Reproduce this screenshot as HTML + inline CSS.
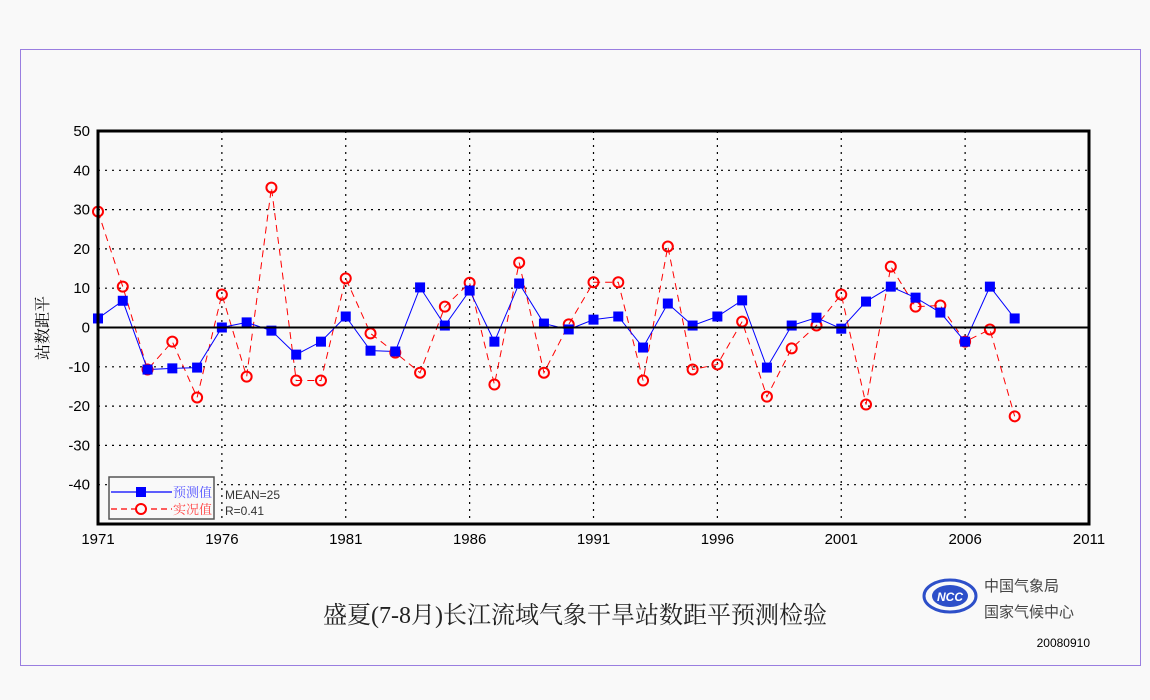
<!DOCTYPE html>
<html><head><meta charset="utf-8"><style>
body{margin:0;background:#f9f9f9;width:1150px;height:700px;overflow:hidden}
svg{display:block}
text{font-family:"Liberation Sans","Noto Sans CJK SC",sans-serif}
</style></head><body>
<svg id="chart" width="1150" height="700">
<rect x="20.5" y="49.5" width="1120" height="616" fill="#f9f9f9" stroke="#9a7ee0" stroke-width="1"/>
<g id="grid"></g><g id="series"></g><g id="axes"></g>
<text x="48" y="328" font-size="16" transform="rotate(-90 48 328)" text-anchor="middle" style="font-family:'Liberation Serif','Noto Serif CJK SC',serif">站数距平</text>
<text x="575" y="623" font-size="24" text-anchor="middle" fill="#222" style="font-family:'Liberation Serif','Noto Serif CJK SC',serif">盛夏(7-8月)长江流域气象干旱站数距平预测检验</text>
<g>
<ellipse cx="950" cy="596" rx="26" ry="16" fill="none" stroke="#2d4fc9" stroke-width="3"/>
<ellipse cx="950" cy="596" rx="18" ry="11" fill="#2d4fc9"/>
<text x="950" y="601" font-size="12" fill="#fff" text-anchor="middle" font-style="italic" font-weight="bold">NCC</text>
</g>
<text x="984" y="591" font-size="15" fill="#444">中国气象局</text>
<text x="984" y="617" font-size="15" fill="#444">国家气候中心</text>
<text x="1090" y="647" font-size="12" text-anchor="end">20080910</text>
<g>
<rect x="109" y="477" width="105" height="42" fill="#f9f9f9" stroke="#555" stroke-width="1.5"/>
<line x1="111" y1="492" x2="172" y2="492" stroke="#00f" stroke-width="1.2"/>
<rect x="136" y="487" width="10" height="10" fill="#00f"/>
<text x="173" y="497" font-size="13" fill="#55f" style="font-family:'Noto Serif CJK SC',serif">预测值</text>
<line x1="111" y1="509" x2="172" y2="509" stroke="#f00" stroke-width="1.2" stroke-dasharray="6,4"/>
<circle cx="141" cy="509" r="5" fill="#f9f9f9" stroke="#f00" stroke-width="2"/>
<text x="173" y="514" font-size="13" fill="#f44" style="font-family:'Noto Serif CJK SC',serif">实况值</text>
</g>
<text x="225" y="499" font-size="12" fill="#333">MEAN=25</text>
<text x="225" y="515" font-size="12" fill="#333">R=0.41</text>
</svg>
<script>
const years=[];for(let y=1971;y<=2008;y++)years.push(y);
const predicted=[2.3,6.8,-10.7,-10.4,-10.2,0,1.3,-0.8,-6.9,-3.6,2.8,-5.9,-6.1,10.2,0.5,9.4,-3.6,11.2,1,-0.5,2.0,2.8,-5.1,6.1,0.5,2.8,6.9,-10.2,0.5,2.5,-0.3,6.6,10.4,7.6,3.8,-3.6,10.4,2.3];
const observed=[29.5,10.4,-10.7,-3.6,-17.8,8.4,-12.5,35.6,-13.5,-13.5,12.5,-1.5,-6.4,-11.5,5.3,11.4,-14.5,16.5,-11.5,0.8,11.5,11.5,-13.5,20.6,-10.7,-9.4,1.5,-17.6,-5.3,0.5,8.4,-19.6,15.5,5.3,5.6,-3.6,-0.5,-22.6];
const yTicks=[50,40,30,20,10,0,-10,-20,-30,-40];
const xTicks=[1971,1976,1981,1986,1991,1996,2001,2006,2011];
const L=98,R=1089,T=131,B=524;
const xs=v=>L+(v-1971)/40*(R-L);
const ys=v=>T+(50-v)/100*(B-T);
const NS="http://www.w3.org/2000/svg";
function mk(tag,at,parent){const e=document.createElementNS(NS,tag);for(const k in at)e.setAttribute(k,at[k]);parent.appendChild(e);return e;}
const grid=document.getElementById('grid'),ser=document.getElementById('series'),ax=document.getElementById('axes');
yTicks.forEach(t=>{
 if(t!==0&&t!==50){const l=mk('line',{x1:L,x2:R,y1:ys(t),y2:ys(t),stroke:'#000','stroke-width':1.2,'stroke-dasharray':'2,5'},grid);
 
 }
 const tx=mk('text',{x:L-8,y:ys(t)+5,'font-size':15,'text-anchor':'end'},ax);tx.textContent=t;
 
 
});
xTicks.forEach(t=>{
 if(t!==1971&&t!==2011){const l=mk('line',{x1:xs(t),x2:xs(t),y1:T,y2:B,stroke:'#000','stroke-width':1.2,'stroke-dasharray':'2,5'},grid);
 
 }
 const tx=mk('text',{x:xs(t),y:B+20,'font-size':15,'text-anchor':'middle'},ax);tx.textContent=t;
 
 
});
const zl=mk('line',{x1:L,x2:R,y1:ys(0),y2:ys(0),stroke:'#000','stroke-width':2},ax);


const fr=mk('rect',{x:L,y:T,width:R-L,height:B-T,fill:'none',stroke:'#000','stroke-width':3},ax);


const po=mk('polyline',{points:years.map((y,i)=>xs(y)+','+ys(observed[i])).join(' '),fill:'none',stroke:'#f00','stroke-width':1,'stroke-dasharray':'7,5'},ser);


const pp=mk('polyline',{points:years.map((y,i)=>xs(y)+','+ys(predicted[i])).join(' '),fill:'none',stroke:'#00f','stroke-width':1},ser);


years.forEach((y,i)=>{
 const c=mk('circle',{cx:xs(y),cy:ys(observed[i]),r:5,fill:'none',stroke:'#f00','stroke-width':2},ser);
 
 
});
years.forEach((y,i)=>{
 const r=mk('rect',{x:xs(y)-5,y:ys(predicted[i])-5,width:10,height:10,fill:'#00f'},ser);
 
 
});
</script>
</body></html>
